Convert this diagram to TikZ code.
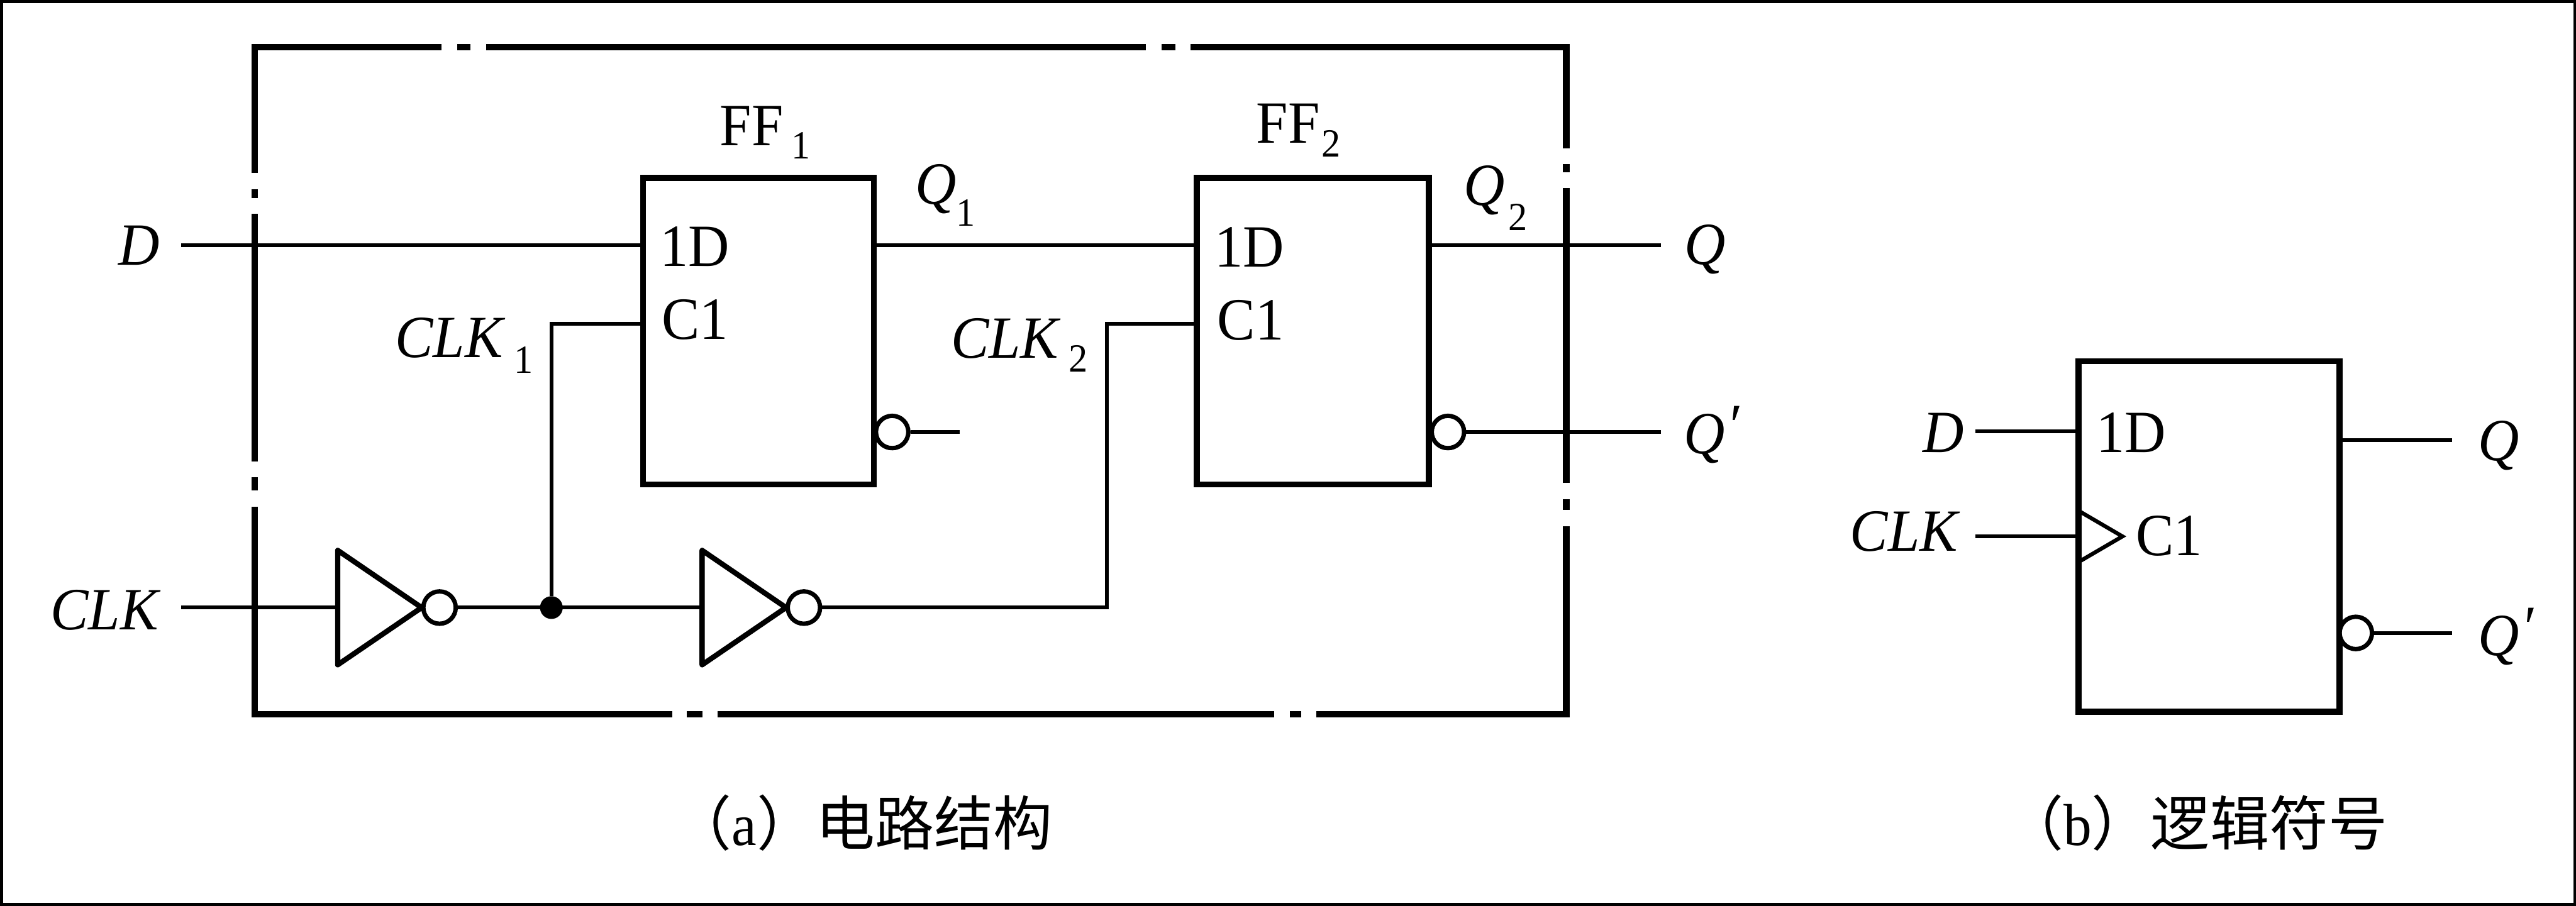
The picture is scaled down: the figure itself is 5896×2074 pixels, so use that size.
\documentclass[tikz,border=0pt]{standalone}
\usepackage{fontspec}
\setmainfont[FakeStretch=0.95]{Liberation Serif}
\newfontfamily\cjk{Noto Sans CJK SC}
\usetikzlibrary{calc}
\newcommand{\lsub}[3]{\kern #1cm\raisebox{-#2cm}{\fontsize{26}{26}\selectfont #3}}
\newcommand{\qprime}{\textit{Q}\kern 0.03cm\raisebox{0.18cm}{\textit{′}}}
\tikzset{
  wire/.style={line width=0.09cm},
  frame/.style={line width=0.15cm},
  block/.style={draw, line width=0.14cm, outer sep=0pt, inner sep=0pt},
  gate/.style={draw, line width=0.12cm, line join=round},
  bubble/.style={draw, circle, line width=0.1cm, minimum size=0.74cm, inner sep=0pt, fill=white},
  dot/.style={circle, fill, minimum size=0.52cm, inner sep=0pt},
  lab/.style={anchor=base west, inner sep=0pt, font=\fontsize{39}{39}\selectfont},
  capt/.style={anchor=base west, inner sep=0pt, font=\fontsize{38.5}{38.5}\selectfont}
}
\begin{document}
\begin{tikzpicture}[x=0.01cm, y=-0.01cm]
  \useasboundingbox (0,0) rectangle (5896,2074);
  \draw[line width=0.07cm] (3,3) rectangle (5893,2071);
% dash-dot box of panel (a)
  \draw[frame]
  (1010,108) -- (583,108) -- (583,396)  (583,433) -- (583,454)
  (583,490) -- (583,1056)  (583,1093) -- (583,1123)
  (583,1160) -- (583,1635) -- (1539,1635)  (1572,1635) -- (1608,1635)
  (1643,1635) -- (2917,1635)  (2953,1635) -- (2978,1635)
  (3013,1635) -- (3585,1635) -- (3585,1205)  (3585,1167) -- (3585,1143)
  (3585,1106) -- (3585,431)  (3585,394) -- (3585,375)
  (3585,339) -- (3585,108) -- (2725,108)  (2690,108) -- (2659,108)
  (2623,108) -- (1112,108)  (1076,108) -- (1046,108);

  \node[block, minimum width=5.28cm, minimum height=7.01cm] (ff1) at (1736,758.5) {};
  \node[block, minimum width=5.31cm, minimum height=7.01cm] (ff2) at (3004.5,758.5) {};
  \node[block, minimum width=5.98cm, minimum height=8.02cm] (ffb) at (5056,1228) {};

  \coordinate (din) at (415,561);
  \coordinate (clkin) at (415,1391);
  \coordinate (qout) at (3802,561);
  \coordinate (nout) at (3802,989);
  \coordinate (nstub) at (2196,989);
  \coordinate (dinb) at (4521,987);
  \coordinate (clkinb) at (4521,1228);
  \coordinate (qoutb) at (5613,1008);
  \coordinate (noutb) at (5613,1449);

  \node[bubble] (n1) at (2042,989) {};
  \node[bubble] (n2) at (3314,989) {};
  \node[bubble] (nb) at (5392,1449) {};

  \foreach \g/\x in {inv1/773, inv2/1607}
  {
    \coordinate (\g) at (\x,1391);
    \draw[gate] (\g) ++(0,-131) -- ++(192,131) -- ++(-192,131) -- cycle;
    \node[bubble] (\g o) at (\x+233,1391) {};
  }
  \node[dot] (j) at (1262,1391) {};

  \path[wire]
  (din) edge (din -| ff1.west)
  (ff1.east |- din) edge (din -| ff2.west)
  (ff2.east |- qout) edge (qout)
  (clkin) edge (inv1)
  (inv1o) edge (inv2)
  (n1) edge (nstub)
  (n2) edge (nout)
  (dinb) edge (dinb -| ffb.west)
  (clkinb) edge (clkinb -| ffb.west)
  (ffb.east |- qoutb) edge (qoutb)
  (nb) edge (noutb);
  \draw[wire] (j) -- (1262,741) -- (1262,741 -| ff1.west);
  \draw[wire] (inv2o) -- (2533,1391) -- (2533,741) -- (2533,741 -| ff2.west);
  \draw[wire] (clkinb -| ffb.west) ++(0,-59) -- ++(101,59) -- ++(-101,59);

  \node[lab] (ld) at (270,606) {\textit{D}};
  \node[lab] (lclk) at (115,1441) {\textit{CLK}};
  \node[lab] (lclk1) at (904,818) {\textit{CLK}\lsub{0.2}{0.36}{1}};
  \node[lab] (lclk2) at (2176,820) {\textit{CLK}\lsub{0.18}{0.32}{2}};
  \node[lab] (lff1) at (1647,333) {FF\lsub{0.19}{0.3}{1}};
  \node[lab] (lff2) at (2875,327) {FF\lsub{0.05}{0.32}{2}};
  \node[lab] (lq1) at (2094,467) {\textit{Q}\lsub{0}{0.51}{1}};
  \node[lab] (lq2) at (3350,470) {\textit{Q}\lsub{0.08}{0.57}{2}};
  \node[lab] (lq) at (3855,605) {\textit{Q}};
  \node[lab] (ln) at (3854,1038) {\qprime};
  \node[lab] (d1) at (1510,610) {1D};
  \node[lab] (c1) at (1514,777) {C1};
  \node[lab] (d2) at (2779,611) {1D};
  \node[lab] (c2) at (2786,778) {C1};

  \node[lab] (ldb) at (4400,1036) {\textit{D}};
  \node[lab] (lclkb) at (4234,1261) {\textit{CLK}};
  \node[lab] (lqb) at (5672,1055) {\textit{Q}};
  \node[lab] (lnb) at (5672,1500) {\qprime};
  \node[lab] (db) at (4797,1036) {1D};
  \node[lab] (cb) at (4888,1272) {C1};

  \node[capt] (capa) at (1539,1935) {\cjk（\rmfamily a\cjk）电路结构};
  \node[capt] (capb) at (4587,1935) {\cjk（\rmfamily b\cjk）逻辑符号};
\end{tikzpicture}
\end{document}
